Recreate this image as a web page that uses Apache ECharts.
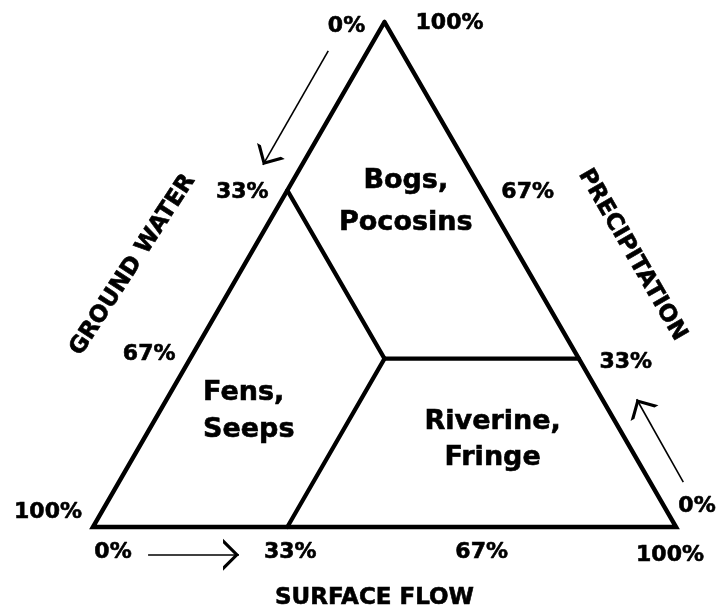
<!DOCTYPE html>
<html><head><meta charset="utf-8">
<script src="https://cdn.jsdelivr.net/npm/echarts@6/dist/echarts.min.js"></script>
<style>html,body{margin:0;padding:0;background:#fff}#c{width:720px;height:613px}</style>
</head><body><div id="c"></div>
<script>
// Ternary compositions are [groundWater, surfaceFlow, precipitation] as fractions.
const vertices = [[0, 0, 1], [1, 0, 0], [0, 1, 0]]; // top, bottom-left, bottom-right
const boundaries = [
  [[1/3, 0, 2/3], [1/3, 1/3, 1/3]],
  [[1/3, 1/3, 1/3], [0, 2/3, 1/3]],
  [[1/3, 1/3, 1/3], [2/3, 1/3, 0]]
];
const tickValues = [0, 1/3, 2/3, 1];
const tickLabels = ['0%', '33%', '67%', '100%'];
const axisTitles = ['GROUND WATER', 'SURFACE FLOW', 'PRECIPITATION'];
const regionNames = ['Bogs,\nPocosins', 'Fens,\nSeeps', 'Riverine,\nFringe'];
const regionPolygons = [
  [[0, 0, 1], [1/3, 0, 2/3], [1/3, 1/3, 1/3], [0, 2/3, 1/3]],
  [[1, 0, 0], [1/3, 0, 2/3], [1/3, 1/3, 1/3], [2/3, 1/3, 0]],
  [[1/3, 1/3, 1/3], [0, 2/3, 1/3], [0, 1, 0], [2/3, 1/3, 0]]
];
// direction arrows (tail -> head), in ternary compositions just outside each side
const arrows = [
  [[0.125, -0.068, 0.943], [0.350, -0.067, 0.717]],
  [[0.933, 0.122, -0.055], [0.777, 0.278, -0.055]],
  [[-0.057, 0.968, 0.089], [-0.059, 0.806, 0.253]]
];

const toXY = t => [t[1] + t[2] / 2, t[2]];
const FONT = "'DejaVu Sans', sans-serif";
// side 0: ground water (left), 1: surface flow (bottom), 2: precipitation (right)
const edgePoint = [v => [v, 0, 1 - v], v => [1 - v, v, 0], v => [0, 1 - v, v]];
const tickOffsets = [
  [[-38, 4], [-45, 2], [-41, -4], [-45, -15]],
  [[20, 25], [3, 25], [0, 25], [-6, 28]],
  [[21, -21], [47, 4], [46, 2], [65, 1]]
];
const titleScreenOffsets = [[-106, -9.5], [-10, 71], [102, -19.5]];
const titleRotate = [57, 0, -60];
const regionOffsets = [[-3, -30], [-60, 11], [11, -3]];
const regionAlign = ['center', 'left', 'center'];
const regionLineHeight = [42, 37, 36];

// label offsets are applied in the rotated frame: convert screen offset to local
function localOffset(d, deg) {
  const a = deg * Math.PI / 180, c = Math.cos(a), s = Math.sin(a);
  return [d[0] * c - d[1] * s, d[0] * s + d[1] * c];
}

const arrowPath = 'path://M10,-24L10.02,-24L10,-23.98Z M10,0L20,24L17.2,24L10,6.5L2.8,24L0,24Z';

const chart = echarts.init(document.getElementById('c'));
const series = [];
series.push({
  type: 'line', silent: true, symbol: 'none', animation: false,
  data: vertices.concat([vertices[0]]).map(toXY),
  lineStyle: { color: '#000', width: 4.5, join: 'miter', cap: 'round' }
});
boundaries.forEach(b => series.push({
  type: 'line', silent: true, symbol: 'none', animation: false,
  data: b.map(toXY),
  lineStyle: { color: '#000', width: 4.2, cap: 'round' }
}));
series.push({
  type: 'lines', coordinateSystem: 'cartesian2d', silent: true, animation: false,
  symbol: ['none', arrowPath], symbolSize: [10, 32],
  itemStyle: { color: '#000' },
  lineStyle: { color: '#000', width: 1.6, opacity: 1, curveness: 0 },
  data: arrows.map(a => ({ coords: a.map(toXY) }))
});
const labelBase = { show: true, position: 'inside', color: '#000', opacity: 1, textBorderColor: '#000', textBorderWidth: 0.6, fontFamily: FONT, fontWeight: 'bold' };
const hidden = { color: 'rgba(0,0,0,0)', opacity: 1 };
const tickData = [];
for (let s = 0; s < 3; s++) {
  tickValues.forEach((v, i) => tickData.push({
    value: toXY(edgePoint[s](v)),
    label: { formatter: tickLabels[i], offset: tickOffsets[s][i] }
  }));
}
series.push({
  type: 'scatter', silent: true, animation: false, symbolSize: 1, itemStyle: hidden,
  label: Object.assign({}, labelBase, { fontSize: 22 }),
  data: tickData
});
series.push({
  type: 'scatter', silent: true, animation: false, symbolSize: 1, itemStyle: hidden,
  label: Object.assign({}, labelBase, { fontSize: 23 }),
  data: axisTitles.map((t, s) => ({
    value: toXY(edgePoint[s](0.5)),
    label: { formatter: t, offset: localOffset(titleScreenOffsets[s], titleRotate[s]), rotate: titleRotate[s] }
  }))
});
series.push({
  type: 'scatter', silent: true, animation: false, symbolSize: 1, itemStyle: hidden,
  label: Object.assign({}, labelBase, { fontSize: 27 }),
  data: regionNames.map((n, r) => {
    const poly = regionPolygons[r];
    const avg = [0, 1, 2].map(k => poly.reduce((a, p) => a + p[k], 0) / poly.length);
    return {
      value: toXY(avg),
      label: { formatter: n, offset: regionOffsets[r], align: regionAlign[r], lineHeight: regionLineHeight[r] }
    };
  })
});

chart.setOption({
  animation: false,
  backgroundColor: '#fff',
  grid: { left: 0, right: 0, top: 0, bottom: 0 },
  xAxis: { type: 'value', min: -93 / 583, max: 627 / 583, show: false },
  yAxis: { type: 'value', min: -86 / 505, max: 527 / 505, show: false },
  series: series
});
</script>
</body></html>
